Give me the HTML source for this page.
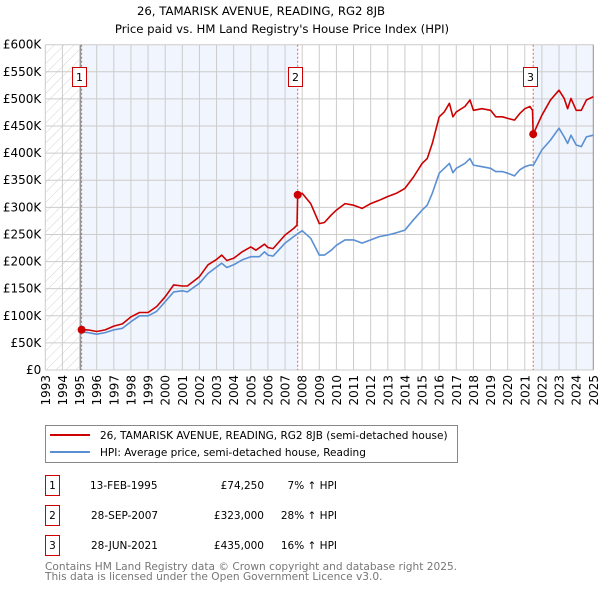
<!DOCTYPE html>
<html><head><meta charset="utf-8"><style>
body{margin:0;background:#fff;font-family:"DejaVu Sans","Liberation Sans",sans-serif;}
svg{display:block}
</style></head><body>
<svg id="chart" width="600" height="590" xmlns="http://www.w3.org/2000/svg" font-family="DejaVu Sans, Liberation Sans, sans-serif">
<defs>
<pattern id="hatch" patternUnits="userSpaceOnUse" width="7" height="7" patternTransform="rotate(45)">
<line x1="0" y1="0" x2="0" y2="7" stroke="#d4d4d4" stroke-width="1"/>
</pattern>
</defs>
<text x="261" y="15" text-anchor="middle" font-size="11.7">26, TAMARISK AVENUE, READING, RG2 8JB</text>
<text x="282" y="33" text-anchor="middle" font-size="11.7">Price paid vs. HM Land Registry's House Price Index (HPI)</text>
<g id="plot"></g>
<g>
<rect x="45.5" y="425.5" width="412" height="37" fill="#fff" stroke="#888"/>
<line x1="50" y1="435" x2="90" y2="435" stroke="#cc0000" stroke-width="2"/>
<text x="100" y="439" font-size="10.5">26, TAMARISK AVENUE, READING, RG2 8JB (semi-detached house)</text>
<line x1="50" y1="452" x2="90" y2="452" stroke="#5b8fd4" stroke-width="2"/>
<text x="100" y="456" font-size="10.5">HPI: Average price, semi-detached house, Reading</text>
</g>
<g font-size="10.5">
<rect x="45.5" y="475.5" width="14" height="20" fill="#fff" stroke="#cc0000"/><text x="52.5" y="489" text-anchor="middle">1</text>
<text x="90" y="489">13-FEB-1995</text><text x="264" y="489" text-anchor="end">£74,250</text><text x="337" y="489" text-anchor="end">7% ↑ HPI</text>
<rect x="45.5" y="505.5" width="14" height="20" fill="#fff" stroke="#cc0000"/><text x="52.5" y="519" text-anchor="middle">2</text>
<text x="91" y="519">28-SEP-2007</text><text x="264" y="519" text-anchor="end">£323,000</text><text x="337" y="519" text-anchor="end">28% ↑ HPI</text>
<rect x="45.5" y="535.5" width="14" height="20" fill="#fff" stroke="#cc0000"/><text x="52.5" y="549" text-anchor="middle">3</text>
<text x="91" y="549">28-JUN-2021</text><text x="264" y="549" text-anchor="end">£435,000</text><text x="337" y="549" text-anchor="end">16% ↑ HPI</text>
</g>
<text x="45" y="570" font-size="10.6" fill="#777">Contains HM Land Registry data © Crown copyright and database right 2025.</text>
<text x="45" y="580" font-size="10.6" fill="#777">This data is licensed under the Open Government Licence v3.0.</text>
</svg>
<script>
const hpiYears=[1995.12,1995.5,1996,1996.5,1997,1997.5,1998,1998.5,1999,1999.5,2000,2000.5,2001,2001.3,2002,2002.5,2003,2003.3,2003.6,2004,2004.5,2005,2005.5,2005.8,2006,2006.3,2007,2007.5,2008,2008.5,2009,2009.3,2009.7,2010,2010.5,2011,2011.5,2012,2012.5,2013,2013.5,2014,2014.5,2015,2015.3,2015.6,2016,2016.3,2016.6,2016.8,2017,2017.5,2017.8,2018,2018.5,2019,2019.3,2019.7,2020,2020.4,2020.7,2021,2021.3,2021.5,2022,2022.5,2023,2023.3,2023.5,2023.7,2024,2024.3,2024.6,2025];
const hpiVals=[70,69,66,69,74,77,89,100,100,108,126,144,146,144,160,178,190,197,189,194,203,209,209,218,212,210,234,246,257,243,212,212,221,230,240,240,234,240,246,249,253,258,277,295,304,326,363,372,381,364,372,381,390,378,375,372,366,366,363,358,369,375,378,378,406,424,446,430,418,433,415,412,430,433];
const redYears=[1995.12,1995.5,1996,1996.5,1997,1997.5,1998,1998.5,1999,1999.5,2000,2000.5,2001,2001.3,2002,2002.5,2003,2003.3,2003.6,2004,2004.5,2005,2005.3,2005.8,2006,2006.3,2007,2007.5,2007.7,2007.74,2008,2008.5,2009,2009.3,2009.7,2010,2010.5,2011,2011.5,2012,2012.5,2013,2013.5,2014,2014.5,2015,2015.3,2015.6,2016,2016.3,2016.6,2016.8,2017,2017.5,2017.8,2018,2018.5,2019,2019.3,2019.7,2020,2020.4,2020.7,2021,2021.3,2021.45,2021.49,2022,2022.5,2023,2023.3,2023.5,2023.7,2024,2024.3,2024.6,2025];
const redVals=[74.25,74,71,74,81,85,98,106,106,117,135,157,155,155,172,194,204,212,202,206,218,227,221,232,226,224,249,261,267,323,326,307,270,272,286,295,307,304,298,307,313,320,326,335,356,381,390,418,467,476,492,467,476,486,498,479,482,479,467,467,464,461,473,482,486,479,435,470,498,516,501,482,501,479,479,498,504];
const sales=[{n:"1",t:1995.12,v:74.25},{n:"2",t:2007.74,v:323},{n:"3",t:2021.49,v:435}];
const yTicks=[0,50,100,150,200,250,300,350,400,450,500,550,600];
const xTicks=[];for(let y=1993;y<=2025;y++)xTicks.push(y);

const X0=45.3,X1=593.3,Y0=370,Y1=44.7;
const xs=t=>X0+(t-1993)/(2025-1993)*(X1-X0);
const ys=v=>Y0-v/600*(Y0-Y1);
const NS="http://www.w3.org/2000/svg";
const plot=document.getElementById('plot');
function mk(tag,attrs,parent){const e=document.createElementNS(NS,tag);for(const k in attrs)e.setAttribute(k,attrs[k]);(parent||plot).appendChild(e);return e;}

let e=mk('rect',{x:X0,y:Y1,width:xs(sales[0].t)-X0,height:Y0-Y1,fill:'url(#hatch)'});


e=mk('rect',{x:xs(sales[0].t),y:Y1,width:xs(sales[1].t)-xs(sales[0].t),height:Y0-Y1,fill:'#eef3fc',opacity:0.8});


e=mk('rect',{x:xs(sales[2].t),y:Y1,width:X1-xs(sales[2].t),height:Y0-Y1,fill:'#eef3fc',opacity:0.8});



yTicks.forEach(v=>{
 const g=mk('line',{x1:X0,x2:X1,y1:ys(v),y2:ys(v),stroke:'#ccc','stroke-width':1});
 
 
 const t=mk('text',{x:X0-4,y:ys(v)+4,'text-anchor':'end','font-size':12});
 
 
 t.textContent=v===0?'£0':'£'+v+'K';
});
xTicks.forEach(yr=>{
 const g=mk('line',{x1:xs(yr),x2:xs(yr),y1:Y1,y2:Y0,stroke:'#ccc','stroke-width':1});
 
 
 const t=mk('text',{x:0,y:0,'text-anchor':'end','font-size':12,transform:`translate(${xs(yr)+4.5},375) rotate(-90)`});
 
 
 t.textContent=yr;
});
e=mk('line',{x1:xs(sales[0].t)-1,x2:xs(sales[0].t)-1,y1:Y1,y2:Y0,stroke:'#888'});


e=mk('line',{x1:X1,x2:X1,y1:Y1,y2:Y0,stroke:'#999'});



sales.forEach(s=>{
 const l=mk('line',{x1:xs(s.t),x2:xs(s.t),y1:Y1,y2:Y0,stroke:'#e06060','stroke-dasharray':'2,2','stroke-width':1});
 
 
});

function path(xa,va){return xa.map((t,i)=>(i?'L':'M')+xs(t).toFixed(1)+','+ys(va[i]).toFixed(1)).join('');}
e=mk('path',{d:path(hpiYears,hpiVals),fill:'none',stroke:'#5b8fd4','stroke-width':1.6,'stroke-linejoin':'round'});


e=mk('path',{d:path(redYears,redVals),fill:'none',stroke:'#cc0000','stroke-width':1.6,'stroke-linejoin':'round'});



sales.forEach(s=>{
 const c=mk('circle',{cx:xs(s.t),cy:ys(s.v),r:4,fill:'#cc0000'});
 
 
 const cx=Math.round(xs(s.t))-3;
 const r=mk('rect',{x:cx-7+0.5,y:67.5,width:14,height:19,fill:'#fff',stroke:'#cc0000'});
 
 
 const t=mk('text',{x:cx+0.5,y:81,'text-anchor':'middle','font-size':11});
 
 
 t.textContent=s.n;
});
</script>
</body></html>
